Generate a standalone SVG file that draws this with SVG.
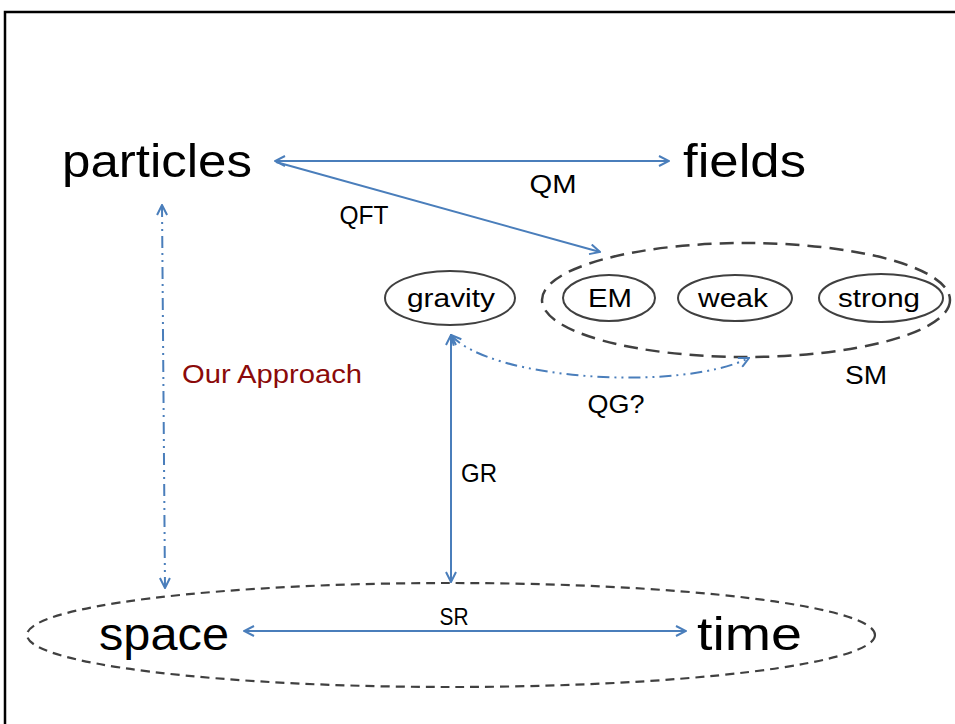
<svg xmlns="http://www.w3.org/2000/svg" width="955" height="724" viewBox="0 0 955 724">
<style>
.big{font-family:"Liberation Sans",Arial,sans-serif;font-size:46px;fill:#000}
.lbl{font-family:"Liberation Sans",Arial,sans-serif;font-size:26px;fill:#000}
.node{fill:#fff;stroke:#404040;stroke-width:2}
.grp{fill:none;stroke:#404040;stroke-width:2.5;stroke-dasharray:14 8}
.grp2{fill:none;stroke:#404040;stroke-width:2.2;stroke-dasharray:9 6}
.conn{fill:none;stroke:#4A7EBB;stroke-width:2}
.dd{stroke-dasharray:12 5 2 5 2 5}
</style>
<defs>
<marker id="ah" viewBox="0 0 12 12" refX="11" refY="6" markerWidth="12" markerHeight="12" markerUnits="userSpaceOnUse" orient="auto-start-reverse">
<path d="M1,1 L11,6 L1,11" fill="none" stroke="#4A7EBB" stroke-width="2"/>
</marker>
</defs>
<rect width="955" height="724" fill="#fff"/>
<path d="M5,724 L5,12 L955,12" fill="none" stroke="#000" stroke-width="2.5"/>

<g id="sm-group"><ellipse class="grp" cx="746" cy="300" rx="204" ry="57"/><text class="lbl" x="866" y="384" text-anchor="middle" textLength="42" lengthAdjust="spacingAndGlyphs">SM</text></g>
<g id="spacetime-group"><ellipse class="grp2" cx="451" cy="635" rx="424" ry="52"/></g>

<g id="particles"><text class="big" x="62" y="177" textLength="190" lengthAdjust="spacingAndGlyphs">particles</text></g>
<g id="fields"><text class="big" x="683" y="177" textLength="123" lengthAdjust="spacingAndGlyphs">fields</text></g>
<g id="space"><text class="big" x="99" y="650" textLength="130" lengthAdjust="spacingAndGlyphs">space</text></g>
<g id="time"><text class="big" x="697" y="650" textLength="105" lengthAdjust="spacingAndGlyphs">time</text></g>

<g id="gravity"><ellipse class="node" cx="450" cy="298" rx="65" ry="27"/><text class="lbl" x="451" y="307" text-anchor="middle" textLength="88" lengthAdjust="spacingAndGlyphs">gravity</text></g>
<g id="em"><ellipse class="node" cx="609" cy="298" rx="46" ry="23"/><text class="lbl" x="610" y="307" text-anchor="middle" textLength="44" lengthAdjust="spacingAndGlyphs">EM</text></g>
<g id="weak"><ellipse class="node" cx="735" cy="298" rx="57" ry="23"/><text class="lbl" x="733" y="307" text-anchor="middle" textLength="70" lengthAdjust="spacingAndGlyphs">weak</text></g>
<g id="strong"><ellipse class="node" cx="881" cy="298" rx="62" ry="24"/><text class="lbl" x="879" y="307" text-anchor="middle" textLength="82" lengthAdjust="spacingAndGlyphs">strong</text></g>

<g id="connectors">
<line class="conn" x1="275" y1="161" x2="669" y2="161" marker-start="url(#ah)" marker-end="url(#ah)"/>
<line class="conn" x1="276" y1="162" x2="600" y2="252" marker-end="url(#ah)"/>
<line class="conn dd" x1="162" y1="205" x2="165" y2="588" marker-start="url(#ah)" marker-end="url(#ah)"/>
<line class="conn" x1="451" y1="335" x2="451" y2="582" marker-start="url(#ah)" marker-end="url(#ah)"/>
<path class="conn dd" d="M451,335 C490,380 680,392 749,358" marker-start="url(#ah)" marker-end="url(#ah)"/>
<line class="conn" x1="244" y1="631" x2="686" y2="631" marker-start="url(#ah)" marker-end="url(#ah)"/>
<text class="lbl" x="553" y="193" text-anchor="middle" textLength="47" lengthAdjust="spacingAndGlyphs">QM</text>
<text class="lbl" x="364" y="224" text-anchor="middle" textLength="49" lengthAdjust="spacingAndGlyphs">QFT</text>
<text class="lbl" x="272" y="383" text-anchor="middle" textLength="180" lengthAdjust="spacingAndGlyphs" style="fill:#8B0A0A">Our Approach</text>
<text class="lbl" x="479" y="482" text-anchor="middle" textLength="36" lengthAdjust="spacingAndGlyphs">GR</text>
<text class="lbl" x="616" y="413" text-anchor="middle" textLength="57" lengthAdjust="spacingAndGlyphs">QG?</text>
<text class="lbl" x="454" y="625" text-anchor="middle" textLength="29" lengthAdjust="spacingAndGlyphs" style="font-size:23px">SR</text>
</g>
</svg>
